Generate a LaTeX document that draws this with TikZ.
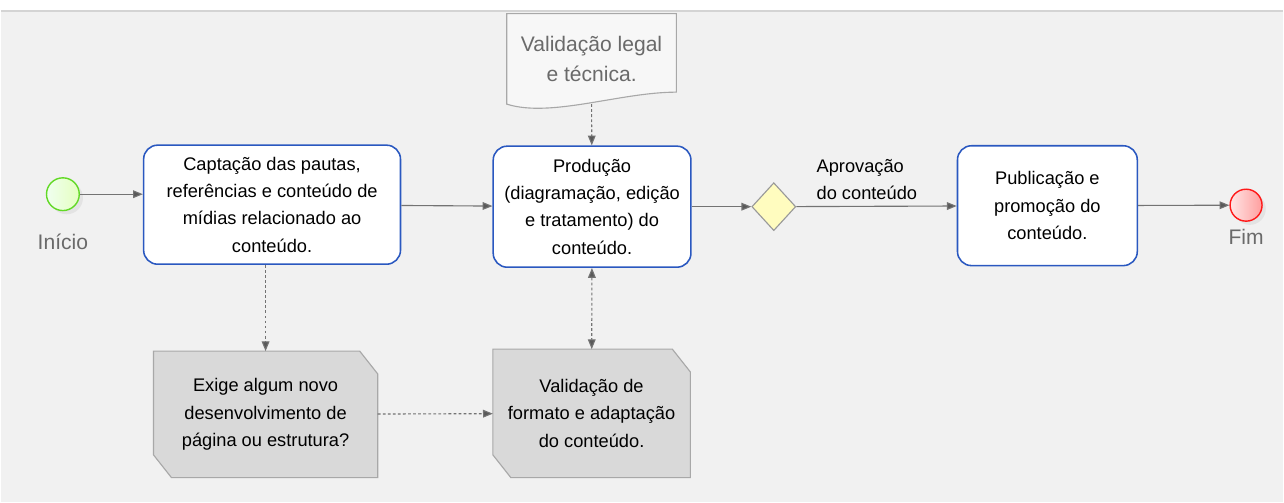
\documentclass[tikz,border=0pt]{standalone}
\usepackage{fontspec}
\setmainfont{Liberation Sans}
\usetikzlibrary{arrows.meta,shapes.geometric,shadows}

\definecolor{bgGrey}{HTML}{F1F1F1}
\definecolor{topLine}{HTML}{D4D4D4}
\definecolor{taskBlue}{HTML}{2A58C0}
\definecolor{flowGrey}{HTML}{737373}
\definecolor{tipGrey}{HTML}{595959}
\definecolor{noteGrey}{HTML}{D9D9D9}
\definecolor{noteLine}{HTML}{A8A8A8}
\definecolor{labelGrey}{HTML}{6A6A6A}

\pgfdeclarelayer{background}
\pgfsetlayers{background,main}

\begin{document}
\begin{tikzpicture}[x=0.025cm, y=-0.025cm,
	task/.style={draw=taskBlue, line width=1.1pt, fill=white, rounded corners=10pt,
		align=center, inner sep=2pt, font=\fontsize{13}{19.5}\selectfont},
	note/.style={align=center, inner sep=2pt, font=\fontsize{13}{19.5}\selectfont},
	noteshape/.style={draw=noteLine, line width=0.8pt, fill=noteGrey},
	evlabel/.style={text=labelGrey, font=\fontsize{15}{18}\selectfont},
	flow/.style={draw=flowGrey, line width=0.8pt, -{Triangle[length=7pt, width=5.5pt, fill=tipGrey]}},
	assoc/.style={flow, dash pattern=on 2pt off 1.6pt}
	]
	% events
	\node[circle, minimum size=0.82cm, inner sep=0, draw=green!55!lime!70!gray, line width=1pt,
		left color=green!6, right color=green!22!lime!25, drop shadow={opacity=0.12}] (inicio) at (62,194.5) {};
	\node[evlabel] (inicioLbl) at (62,242) {Início};
	\node[circle, minimum size=0.8cm, inner sep=0, draw=red!90, line width=1pt,
		left color=red!10, right color=red!38, drop shadow={opacity=0.12}] (fim) at (1247,205.5) {};
	\node[evlabel] (fimLbl) at (1247,237) {Fim};

	% tasks
	\node[task, minimum width=6.43cm, minimum height=2.98cm] (captacao) at (271.5,205)
		{Captação das pautas,\\referências e conteúdo de\\mídias relacionado ao\\conteúdo.};
	\node[task, minimum width=4.95cm, minimum height=3.03cm] (producao) at (592,207)
		{Produção\\(diagramação, edição\\e tratamento) do\\conteúdo.};
	\node[task, minimum width=4.5cm, minimum height=3cm] (publicacao) at (1048,206)
		{Publicação e\\promoção do\\conteúdo.};
	\node[diamond, minimum width=1.1cm, minimum height=1.2cm, inner sep=0, draw=gray!80,
		line width=0.8pt, fill=yellow!25] (gw) at (774,207) {};

	% document and notes
	\node[text=labelGrey, align=center, minimum width=4.23cm, minimum height=2.25cm,
		font=\fontsize{15}{21}\selectfont] (legal) at (591.5,59) {Validação legal\\e técnica.};
	\node[note, minimum width=5.6cm, minimum height=3.15cm] (exige) at (265,415)
		{Exige algum novo\\desenvolvimento de\\página ou estrutura?};
	\node[note, minimum width=4.93cm, minimum height=3.2cm] (formato) at (591.5,414)
		{Validação de\\formato e adaptação\\do conteúdo.};

	\begin{pgfonlayer}{background}
		\fill[white] (0,0) rectangle (1284,12);
		\fill[bgGrey] (0,12) rectangle (1284,503);
		\draw[topLine, line width=1.4pt] (0,11.5) -- (1284,11.5);
		\draw[draw=noteLine, fill=gray!6, line width=0.8pt] (legal.south west) -- (legal.north west) -- (legal.north east)
			-- ([yshift=0.3cm]legal.south east) .. controls +(-1.4cm,0) and +(1.1cm,-0.35cm) .. (legal.south west) -- cycle;
		\foreach \n in {exige,formato}
			\draw[noteshape] (\n.north west) -- ([xshift=-0.45cm]\n.north east) -- ([yshift=-0.57cm]\n.north east)
				-- (\n.south east) -- ([xshift=0.45cm]\n.south west) -- ([yshift=0.57cm]\n.south west) -- cycle;
	\end{pgfonlayer}

	% flows
	\draw [flow] (inicio) -- (inicio -| captacao.west);
	\draw [flow] (captacao) -- (producao);
	\draw [flow] (producao) -- (gw);
	\draw [flow] (gw) -- node[pos=0.44, above, align=left, inner sep=4pt,
		font=\fontsize{13}{19.5}\selectfont] (aprovacao) {Aprovação\\do conteúdo} (publicacao);
	\draw [flow] (publicacao) -- (fim);

	% associations
	\draw [assoc] (legal.south) -- (producao);
	\draw [assoc] (exige.north |- captacao.south) -- (exige);
	\draw [assoc] (exige) -- (formato);
	\draw [assoc, {Triangle[length=7pt, width=5.5pt, fill=tipGrey]}-{Triangle[length=7pt, width=5.5pt, fill=tipGrey]}] (producao) -- (formato);
\end{tikzpicture}
\end{document}
